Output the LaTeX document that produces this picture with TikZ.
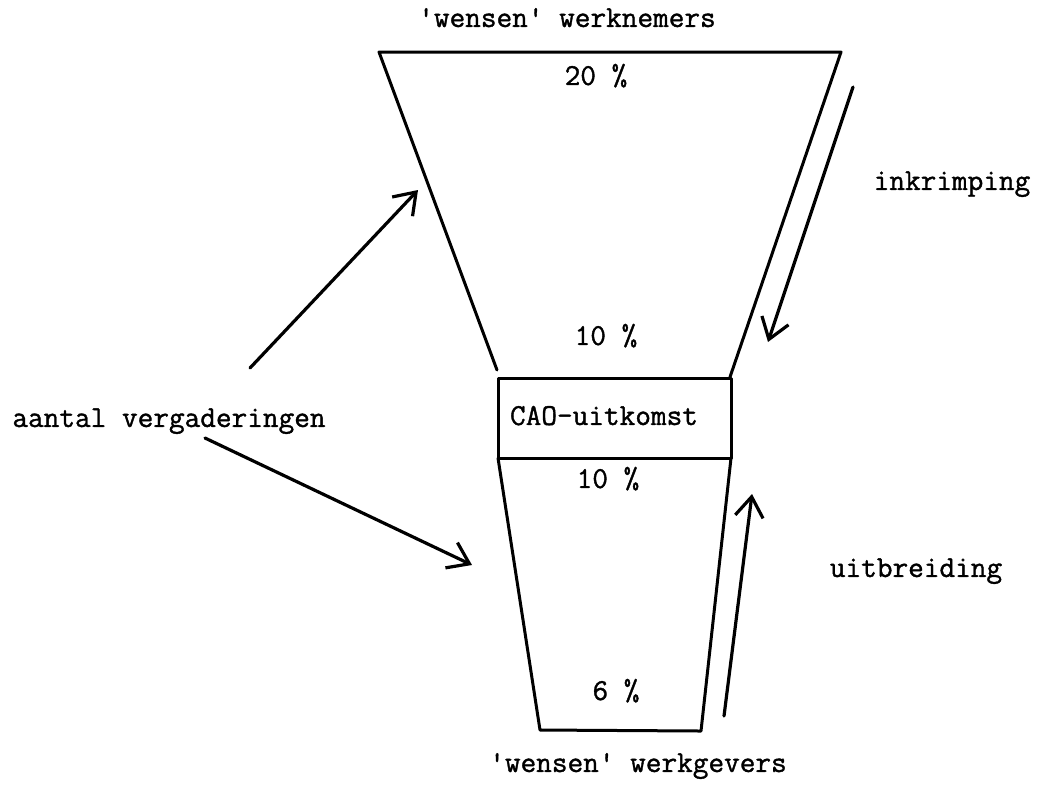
\documentclass[tikz,border=0pt]{standalone}
\usepackage{fontspec}
% slab-serif typewriter face, slightly thickened like a ribbon print
\newfontfamily\typewriter[FakeBold=1.2]{Latin Modern Mono}
\usetikzlibrary{arrows.meta}
\tikzset{
  lbl/.style={font=\typewriter\fontsize{15.2}{18}\selectfont, inner sep=0pt, text height=1.45ex, text depth=0.3ex},
  edge/.style={line width=1.5pt, line join=round, line cap=round},
  arr/.style={line width=1.6pt, line cap=round, -{Straight Barb[length=10pt,width=14pt,line width=1.6pt]}}
}
\begin{document}
\begin{tikzpicture}[x=0.5pt,y=-0.5pt]
  \useasboundingbox (0,0) rectangle (1037,789);
  % upper funnel: wishes of the employees
  \coordinate (tl) at (379,52);
  \coordinate (tr) at (841,52);
  \coordinate (ml) at (497,370);
  \coordinate (mr) at (730,377);
  \draw[edge] (ml) -- (tl) -- (tr) -- (mr);
  % agreement box
  \coordinate (bl) at (498,378);
  \coordinate (br) at (730,378);
  \coordinate (bbl) at (498,458);
  \coordinate (bbr) at (731,458);
  \draw[edge] (bl) rectangle (bbr);
  % lower funnel: wishes of the employers
  \coordinate (ll) at (540,730);
  \coordinate (lr) at (701,731);
  \draw[edge] (bbl) -- (ll) -- (lr) -- (bbr);

  % texts
  \node[lbl] (wn) at (567,22) {'wensen' werknemers};
  \node[lbl] (p20) at (596,80) {20 \%};
  \node[lbl] (p10a) at (606,340) {10 \%};
  \node[lbl] (cao) at (604,420) {CAO-uitkomst};
  \node[lbl] (p10b) at (608,483) {10 \%};
  \node[lbl] (p6) at (616,695) {6 \%};
  \node[lbl] (wg) at (638,767) {'wensen' werkgevers};
  \node[lbl] (ink) at (952,185) {inkrimping};
  \node[lbl] (uit) at (916,572) {uitbreiding};
  \node[lbl] (av) at (169,422) {aantal vergaderingen};

  % arrows
  \coordinate (a1s) at (250,368);
  \coordinate (a1e) at (418,190);
  \coordinate (a2s) at (205,438);
  \coordinate (a2e) at (472,565);
  \coordinate (a3s) at (853,87);
  \coordinate (a3e) at (768,342);
  \coordinate (a4s) at (724,716);
  \coordinate (a4e) at (752,494);
  \draw[arr] (a1s) -- (a1e);
  \draw[arr] (a2s) -- (a2e);
  \draw[arr] (a3s) -- (a3e);
  \draw[arr] (a4s) -- (a4e);
\end{tikzpicture}
\end{document}
